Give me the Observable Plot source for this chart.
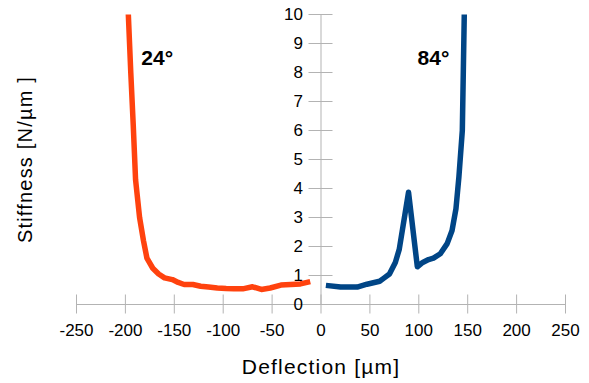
<!DOCTYPE html>
<html>
<head>
<meta charset="utf-8">
<script src="https://cdn.jsdelivr.net/npm/d3@7"></script>
<script src="https://cdn.jsdelivr.net/npm/@observablehq/plot@0.6"></script>
<style>
  body { margin: 0; background: #fff; }
  #chart svg { display: block; font-family: "Liberation Sans", Arial, sans-serif; }
</style>
</head>
<body>
<div id="chart"></div>
<script>
// Axis ticks
const xTicks = [-250, -200, -150, -100, -50, 0, 50, 100, 150, 200, 250];
const yTicks = [0, 1, 2, 3, 4, 5, 6, 7, 8, 9, 10];

// Stiffness vs. deflection, 24° series
const deflection24 = [-197, -194.5, -192, -189.6, -185.5, -181.5, -178, -172, -166, -160, -152, -146, -140, -131, -123, -115, -106, -97, -89, -80, -70, -61, -52, -41, -31, -21, -11];
const stiffness24  = [10, 8, 6.2, 4.3, 3.0, 2.2, 1.6, 1.25, 1.05, 0.92, 0.86, 0.76, 0.69, 0.69, 0.63, 0.6, 0.57, 0.55, 0.54, 0.54, 0.61, 0.52, 0.57, 0.67, 0.69, 0.71, 0.79];

// Stiffness vs. deflection, 84° series
const deflection84 = [5, 20, 37, 47, 60, 64, 70, 76, 80, 89.5, 98.5, 104, 110, 115, 122, 129, 134, 138, 141, 144.5, 146.5];
const stiffness84  = [0.66, 0.6, 0.6, 0.7, 0.8, 0.9, 1.05, 1.45, 1.9, 3.87, 1.3, 1.45, 1.55, 1.6, 1.75, 2.1, 2.55, 3.3, 4.4, 6.0, 10];

const seriesLabels = ["24°", "84°"];
const xTitle = "Deflection [µm]";
const yTitle = "Stiffness [N/µm ]";

const rows24 = deflection24.map((x, i) => ({x, y: stiffness24[i]}));
const rows84 = deflection84.map((x, i) => ({x, y: stiffness84[i]}));

const axisColor = "#b3b3b3";

const chart = Plot.plot({
  width: 589,
  height: 383,
  marginLeft: 76,
  marginRight: 24,
  marginTop: 14,
  marginBottom: 79,
  x: {domain: [-250, 250], axis: null},
  y: {domain: [0, 10], axis: null},
  marks: [
    // axis lines crossing at the origin
    Plot.ruleY([0], {stroke: axisColor}),
    Plot.ruleX([0], {stroke: axisColor}),
    // tick marks straddling each axis
    Plot.ruleX(xTicks, {x: d => d, y1: () => 0, y2: () => 0, insetTop: 9.5, insetBottom: 9.5, stroke: axisColor}),
    Plot.ruleY(yTicks, {y: d => d, x1: () => 0, x2: () => 0, insetLeft: 12, insetRight: 12, stroke: axisColor}),
    // tick labels
    Plot.text(xTicks, {x: d => d, y: () => 0, text: d => String(d), dy: 26, fontSize: 17, fill: "#000"}),
    Plot.text(yTicks, {x: () => 0, y: d => d, text: d => String(d), dx: -18, textAnchor: "end", fontSize: 17, fill: "#000"}),
    // axis titles
    Plot.text([xTitle], {frameAnchor: "bottom", textAnchor: "middle", lineAnchor: "middle", dy: 63, fontSize: 21, fill: "#000"}),
    Plot.text([yTitle], {frameAnchor: "left", textAnchor: "middle", lineAnchor: "middle", dx: -51, rotate: -90, fontSize: 20, fill: "#000"}),
    // series
    Plot.line(rows24, {x: "x", y: "y", stroke: "#ff420e", strokeWidth: 5.5, strokeLinecap: "butt", strokeLinejoin: "round"}),
    Plot.line(rows84, {x: "x", y: "y", stroke: "#004586", strokeWidth: 5.5, strokeLinecap: "butt", strokeLinejoin: "round"}),
    // series annotations
    Plot.text([seriesLabels[0]], {x: () => -167.5, y: () => 8.48, fontSize: 21, fontWeight: "bold", fill: "#000"}),
    Plot.text([seriesLabels[1]], {x: () => 115, y: () => 8.48, fontSize: 21, fontWeight: "bold", fill: "#000"})
  ]
});

// slightly open letter spacing on the axis titles
d3.select(chart).selectAll("text")
  .filter(function () { return this.textContent === xTitle || this.textContent === yTitle; })
  .attr("letter-spacing", "1.2px");

document.getElementById("chart").appendChild(chart);
</script>
</body>
</html>
